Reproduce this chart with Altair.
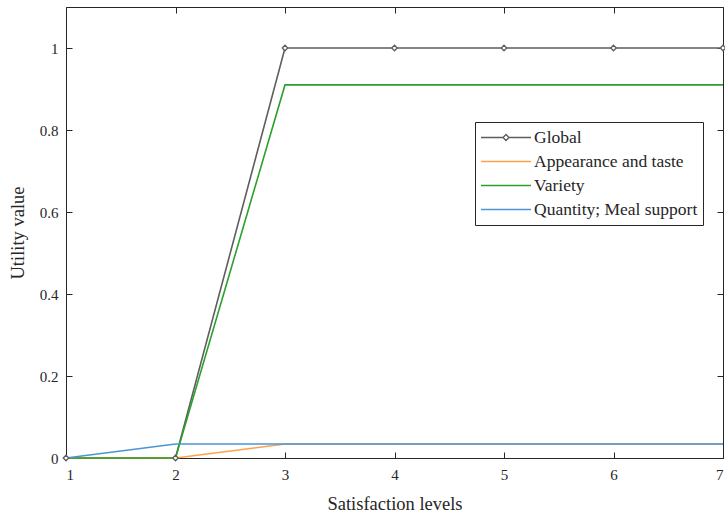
import altair as alt
import pandas as pd

levels = [1, 2, 3, 4, 5, 6, 7]
series_names = ["Global", "Appearance and taste", "Variety", "Quantity; Meal support"]
global_vals = [0, 0, 1, 1, 1, 1, 1]
appearance_vals = [0, 0, 0.034, 0.034, 0.034, 0.034, 0.034]
variety_vals = [0, 0, 0.91, 0.91, 0.91, 0.91, 0.91]
quantity_vals = [0, 0.034, 0.034, 0.034, 0.034, 0.034, 0.034]
colors = ["#5e5e5e", "#FFA04A", "#2ca02c", "#4a96d4"]
x_ticks = [1, 2, 3, 4, 5, 6, 7]
y_ticks = [0, 0.2, 0.4, 0.6, 0.8, 1.0]

rows = []
for name, vals in zip(series_names, [global_vals, appearance_vals, variety_vals, quantity_vals]):
    for lv, v in zip(levels, vals):
        rows.append({"level": lv, "value": v, "series": name, "order": series_names.index(name)})
df = pd.DataFrame(rows)
gdf = df[df.series == "Global"]

W, H = 657, 451
FONT = "Liberation Serif"
TXT = "#262626"

xscale = alt.Scale(domain=[1, 7], nice=False, zero=False)
yscale = alt.Scale(domain=[0, 1.1], nice=False)

legend_shape = (
    "datum.value == 'Global' ? "
    "'M-1,0L-0.12,0M0.12,0L1,0M-0.12,0L0,-0.12L0.12,0L0,0.12Z' : 'M-1,0L1,0'"
)

lines = alt.Chart(df).mark_line(strokeWidth=1.6).encode(
    x=alt.X("level:Q", scale=xscale,
            axis=alt.Axis(values=x_ticks, title="Satisfaction levels", tickSize=0, domain=False,
                          grid=False, labelPadding=9, titlePadding=12, format="d",
                          labelFont=FONT, titleFont=FONT)),
    y=alt.Y("value:Q", scale=yscale,
            axis=alt.Axis(values=y_ticks, title="Utility value", tickSize=0, domain=False,
                          grid=False, labelPadding=8, titlePadding=12, format="~g",
                          labelFont=FONT, titleFont=FONT)),
    color=alt.Color("series:N", sort=series_names,
                    scale=alt.Scale(domain=series_names, range=colors),
                    legend=alt.Legend(
                        title=None, orient="none", legendX=409, legendY=115,
                        symbolType={"expr": legend_shape}, symbolSize=2500, symbolStrokeWidth=1.4,
                        symbolFillColor="white",
                        clipHeight=21, rowPadding=3, labelOffset=2,
                        padding=5, strokeColor=TXT, fillColor="white",
                        labelFont=FONT, labelFontSize=17.5, labelColor=TXT,
                        labelLimit=300,
                    )),
    order="order:Q",
    detail="series:N",
)

pts = alt.Chart(gdf).mark_point(shape="diamond", size=30, filled=True, fill="white",
                                stroke="#5e5e5e", strokeWidth=1.3, opacity=1).encode(
    x=alt.X("level:Q", scale=xscale,
            axis=alt.Axis(orient="top", offset=-H, values=x_ticks, labels=False, title=None,
                          domain=False, grid=False, tickSize=6, tickColor=TXT)),
    y=alt.Y("value:Q", scale=yscale,
            axis=alt.Axis(orient="right", offset=-W, values=y_ticks, labels=False, title=None,
                          domain=False, grid=False, tickSize=6, tickColor=TXT)),
)

pts2 = alt.Chart(gdf).mark_point(opacity=0).encode(
    x=alt.X("level:Q", scale=xscale,
            axis=alt.Axis(orient="bottom", offset=-H, values=x_ticks, labels=False, title=None,
                          domain=False, grid=False, tickSize=6, tickColor=TXT)),
    y=alt.Y("value:Q", scale=yscale,
            axis=alt.Axis(orient="left", offset=-W, values=y_ticks, labels=False, title=None,
                          domain=False, grid=False, tickSize=6, tickColor=TXT)),
)

chart = alt.layer(lines, pts, pts2).resolve_axis(x="independent", y="independent").properties(
    width=W, height=H,
    autosize=alt.AutoSizeParams(type="none"),
    padding={"left": 66, "top": 7, "right": 2, "bottom": 56},
).configure(background="white").configure_view(stroke=TXT, strokeWidth=1).configure_axis(
    labelFont=FONT, titleFont=FONT, labelFontSize=15, titleFontSize=18.5,
    labelColor=TXT, titleColor=TXT, titleFontWeight="normal",
)

chart.save("out.html", embed_options={"renderer": "svg", "actions": False})
